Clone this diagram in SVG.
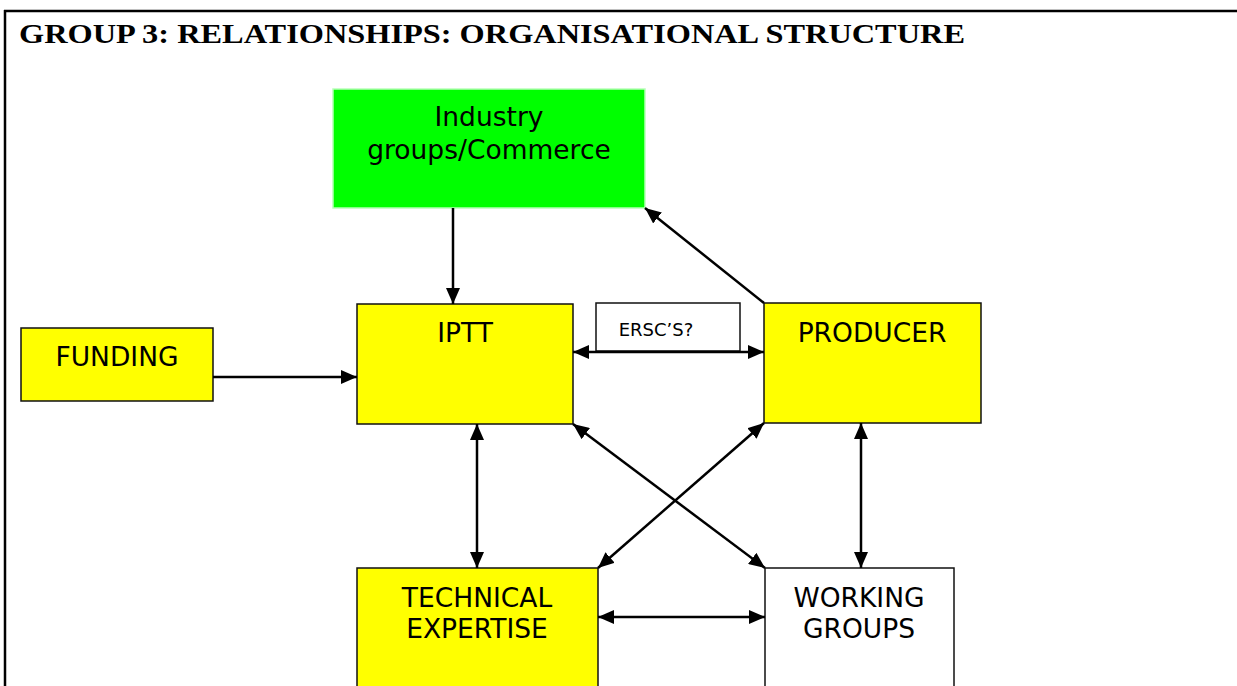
<svg xmlns="http://www.w3.org/2000/svg" width="1237" height="686" viewBox="0 0 1237 686">
<style>
.box{stroke:#111;stroke-width:1.5}
.y{fill:#ffff00}
.w{fill:#ffffff}
.lbl{font-family:"DejaVu Sans",Verdana,sans-serif;font-size:26.5px;fill:#000;text-anchor:middle}
.small{font-family:"DejaVu Sans",Verdana,sans-serif;font-size:18px;fill:#000;text-anchor:middle}
.title{font-family:"Liberation Serif","Times New Roman",serif;font-size:28px;font-weight:bold;fill:#000}
.c{stroke:#000;stroke-width:2.5;fill:none}
</style>
<defs>
<marker id="ah" viewBox="0 0 16 14" refX="16" refY="7" markerWidth="16" markerHeight="14" markerUnits="userSpaceOnUse" orient="auto-start-reverse">
<path d="M0,0 L16,7 L0,14 Z" fill="#000"/>
</marker>
</defs>
<rect x="0" y="0" width="1237" height="686" fill="#fff"/>
<g id="frame">
<line x1="4" y1="11" x2="1237" y2="11" stroke="#000" stroke-width="2.5"/>
<line x1="5" y1="10" x2="5" y2="686" stroke="#000" stroke-width="2.5"/>
<text class="title" x="19" y="43" textLength="946" lengthAdjust="spacingAndGlyphs">GROUP 3: RELATIONSHIPS: ORGANISATIONAL STRUCTURE</text>
</g>
<g id="industry">
<rect x="333" y="89" width="312" height="119" fill="#00ff00" stroke="#b8ffb8" stroke-width="1.5"/>
<text class="lbl" x="489" y="126">Industry</text>
<text class="lbl" x="489" y="159">groups/Commerce</text>
</g>
<g id="funding">
<rect class="box y" x="21" y="328" width="192" height="73"/>
<text class="lbl" x="117" y="366">FUNDING</text>
</g>
<g id="iptt">
<rect class="box y" x="357" y="304" width="216" height="120"/>
<text class="lbl" x="465" y="342">IPTT</text>
</g>
<g id="producer">
<rect class="box y" x="764" y="303" width="217" height="120"/>
<text class="lbl" x="872" y="342">PRODUCER</text>
</g>
<g id="ersc">
<rect class="box w" x="596" y="303" width="144" height="48"/>
<text class="small" x="656" y="336">ERSC’S?</text>
</g>
<g id="technical">
<rect class="box y" x="357" y="568" width="241" height="130"/>
<text class="lbl" x="477" y="607">TECHNICAL</text>
<text class="lbl" x="477" y="638">EXPERTISE</text>
</g>
<g id="working">
<rect class="box w" x="765" y="568" width="189" height="130"/>
<text class="lbl" x="859" y="607">WORKING</text>
<text class="lbl" x="859" y="638">GROUPS</text>
</g>
<g id="connectors">
<line class="c" x1="453" y1="208" x2="453" y2="304" marker-end="url(#ah)"/>
<line class="c" x1="213" y1="377" x2="357" y2="377" marker-end="url(#ah)"/>
<line class="c" x1="764" y1="303" x2="645" y2="208" marker-end="url(#ah)"/>
<line class="c" x1="573" y1="352" x2="764" y2="352" marker-start="url(#ah)" marker-end="url(#ah)"/>
<line class="c" x1="477" y1="424" x2="477" y2="568" marker-start="url(#ah)" marker-end="url(#ah)"/>
<line class="c" x1="573" y1="424" x2="765" y2="568" marker-start="url(#ah)" marker-end="url(#ah)"/>
<line class="c" x1="764" y1="423" x2="598" y2="568" marker-start="url(#ah)" marker-end="url(#ah)"/>
<line class="c" x1="861" y1="423" x2="861" y2="568" marker-start="url(#ah)" marker-end="url(#ah)"/>
<line class="c" x1="598" y1="617" x2="765" y2="617" marker-start="url(#ah)" marker-end="url(#ah)"/>
</g>
</svg>
